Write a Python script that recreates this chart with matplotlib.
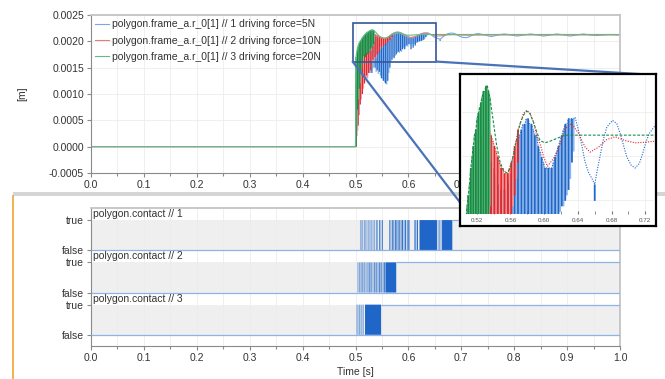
import numpy as np
import matplotlib
matplotlib.use('Agg')
import matplotlib.pyplot as plt
from matplotlib.patches import Rectangle, ConnectionPatch
from matplotlib.lines import Line2D
from matplotlib.ticker import MultipleLocator, FormatStrFormatter

plt.rcParams['font.family'] = ['Liberation Sans', 'DejaVu Sans']
plt.rcParams['axes.unicode_minus'] = False

# polygon.frame_a.r_0[1]  [m]
# smooth part of each trace (before contact and after the chatter)
t_blue = [0.0, 0.5, 0.6367, 0.6407, 0.6447, 0.6486, 0.6526, 0.6573, 0.6625, 0.6665, 0.6704, 0.6744,
          0.6811, 0.6862, 0.6902, 0.6942, 0.6981, 0.7033, 0.7080, 0.7128, 0.7168, 0.7207, 0.7247,
          0.7318, 0.7450, 0.7570, 0.7690, 0.7810, 0.7940, 0.8060, 0.8180, 0.8310, 0.8440, 0.8560,
          0.8680, 0.8810, 0.8940, 0.9060, 0.9180, 0.9310, 0.9440, 0.9560, 0.9680, 0.9810, 1.0]
y_blue = [0.0, 0.0, 0.002163, 0.002139, 0.002111, 0.002081, 0.002062, 0.002049, 0.002062, 0.002093,
          0.002123, 0.002145, 0.002157, 0.002151, 0.002133, 0.002111, 0.002090, 0.002075, 0.002070,
          0.002078, 0.002096, 0.002117, 0.002133, 0.002148, 0.00212, 0.00209, 0.00212, 0.00214,
          0.00212, 0.00210, 0.00212, 0.00214, 0.00212, 0.00210, 0.00212, 0.00214, 0.00212, 0.00210,
          0.00212, 0.00214, 0.00212, 0.00211, 0.00212, 0.00213, 0.00212]
t_red = [0.0, 0.5, 0.5714, 0.5754, 0.5794, 0.5833, 0.5873, 0.5912, 0.5952, 0.5995, 0.6039, 0.6110,
         0.6170, 0.6249, 0.6328, 0.6408, 0.6487, 0.6546, 0.6645, 0.6744, 0.6843, 0.6962, 0.7080,
         0.7199, 0.7318, 0.8000, 1.0]
y_red = [0.0, 0.0, 0.00215, 0.00217, 0.002175, 0.00217, 0.002154, 0.00213, 0.002114, 0.00209,
         0.002073, 0.002087, 0.002105, 0.002142, 0.002151, 0.002133, 0.002108, 0.002099, 0.002108,
         0.002122, 0.002127, 0.00212, 0.002116, 0.002117, 0.002119, 0.002121, 0.002121]
t_green = [0.0, 0.5, 0.5398, 0.5437, 0.5477, 0.5517, 0.5556, 0.5596, 0.5635, 0.5675, 0.5714, 0.5754,
           0.5794, 0.5833, 0.5873, 0.5912, 0.5952, 0.6011, 0.6071, 0.6150, 0.6250, 0.6500, 0.7000,
           0.8000, 1.0]
y_green = [0.0, 0.0, 0.002154, 0.002111, 0.002081, 0.002066, 0.002061, 0.002069, 0.002093, 0.002123,
           0.002151, 0.002166, 0.002174, 0.002169, 0.002154, 0.002136, 0.002120, 0.002116, 0.002119,
           0.002124, 0.00213, 0.00213, 0.00213, 0.00213, 0.00213]

# chatter while bouncing: sample time, top of spike, bottom of spike
bt_blue = [0.5010, 0.5040, 0.5070, 0.5100, 0.5130, 0.5160, 0.5190, 0.5220, 0.5250, 0.5280, 0.5310,
           0.5340, 0.5370, 0.5390, 0.5410, 0.5430, 0.5450, 0.5470, 0.5490, 0.5510, 0.5530, 0.5550,
           0.5570, 0.5590, 0.5610, 0.5630, 0.5650, 0.5670, 0.5690, 0.5710, 0.5730, 0.5750, 0.5770,
           0.5790, 0.5810, 0.5830, 0.5850, 0.5870, 0.5890, 0.5910, 0.5930, 0.5950, 0.5970, 0.5990,
           0.6010, 0.6030, 0.6050, 0.6070, 0.6090, 0.6110, 0.6130, 0.6150, 0.6170, 0.6190, 0.6210,
           0.6230, 0.6250, 0.6270, 0.6290, 0.6310, 0.6330, 0.6350, 0.6600]
btop_blue = [0.0010, 0.0015, 0.0018, 0.0019, 0.0020, 0.00205, 0.00207, 0.00208, 0.00209, 0.00209,
             0.00209, 0.00209, 0.00208, 0.00207, 0.00206, 0.00205, 0.00204, 0.00203, 0.00203,
             0.00203, 0.00203, 0.00203, 0.00204, 0.00205, 0.00206, 0.00207, 0.00209, 0.00211,
             0.00212, 0.00213, 0.00214, 0.00215, 0.00215, 0.00216, 0.00216, 0.00215, 0.00215,
             0.00214, 0.00213, 0.00213, 0.00211, 0.00210, 0.00209, 0.00208, 0.00207, 0.00207,
             0.00207, 0.00207, 0.00207, 0.00208, 0.00209, 0.00210, 0.00211, 0.00212, 0.00213,
             0.00214, 0.00215, 0.00215, 0.00216, 0.00216, 0.00216, 0.00216, 0.00204]
blow_blue = [0.0, 0.0003, 0.0006, 0.0009, 0.0011, 0.0012, 0.0013, 0.0013, 0.0014, 0.0014, 0.0014,
             0.0015, 0.00150, 0.00142, 0.00145, 0.00138, 0.00142, 0.00135, 0.00130, 0.00128,
             0.00125, 0.00122, 0.00120, 0.00118, 0.00125, 0.00140, 0.00150, 0.00160, 0.00165,
             0.00170, 0.00168, 0.00172, 0.00175, 0.00178, 0.00180, 0.00178, 0.00182, 0.00180,
             0.00185, 0.00188, 0.00185, 0.00190, 0.00192, 0.00190, 0.00195, 0.00193, 0.00185,
             0.00195, 0.00188, 0.00195, 0.00192, 0.00197, 0.00198, 0.00199, 0.00200, 0.00200,
             0.00201, 0.00202, 0.00203, 0.00205, 0.00208, 0.00210, 0.00201]
bt_red = [0.5010, 0.5030, 0.5050, 0.5070, 0.5090, 0.5110, 0.5130, 0.5150, 0.5170, 0.5190, 0.5210,
          0.5230, 0.5250, 0.5270, 0.5290, 0.5310, 0.5330, 0.5350, 0.5370, 0.5390, 0.5410, 0.5430,
          0.5450, 0.5470, 0.5490, 0.5510, 0.5530, 0.5550, 0.5570, 0.5590, 0.5610, 0.5630, 0.5650,
          0.5670, 0.5690]
btop_red = [0.00120, 0.00150, 0.00170, 0.00185, 0.00195, 0.00201, 0.00205, 0.00207, 0.00209, 0.00210,
            0.00211, 0.00212, 0.00213, 0.00213, 0.00214, 0.00214, 0.00215, 0.00214, 0.00213, 0.00212,
            0.00211, 0.00210, 0.00209, 0.00208, 0.00207, 0.00207, 0.00206, 0.00206, 0.00206, 0.00207,
            0.00208, 0.00209, 0.00211, 0.00212, 0.00214]
blow_red = [0.0, 0.0002, 0.0004, 0.0006, 0.0008, 0.0009, 0.0010, 0.0011, 0.0012, 0.0013, 0.00135,
            0.0013, 0.0014, 0.0015, 0.00145, 0.0016, 0.00165, 0.0016, 0.0017, 0.00168, 0.00175,
            0.0018, 0.00178, 0.00185, 0.0019, 0.00188, 0.00192, 0.00195, 0.00194, 0.00197, 0.00198,
            0.0020, 0.00202, 0.00205, 0.00208]
bt_green = [0.5010, 0.5025, 0.5040, 0.5055, 0.5070, 0.5085, 0.5100, 0.5115, 0.5130, 0.5145, 0.5160,
            0.5175, 0.5190, 0.5205, 0.5220, 0.5235, 0.5250, 0.5265, 0.5280, 0.5295, 0.5310, 0.5325,
            0.5340, 0.5355]
btop_green = [0.00170, 0.00180, 0.00188, 0.00193, 0.00197, 0.00200, 0.00202, 0.00204, 0.00207, 0.00209,
              0.00211, 0.00213, 0.00214, 0.00216, 0.00217, 0.00218, 0.00219, 0.00220, 0.00221, 0.00221,
              0.00222, 0.00222, 0.00221, 0.00220]
blow_green = [0.0, 0.0004, 0.0007, 0.0009, 0.0011, 0.0012, 0.0014, 0.0015, 0.0016, 0.0017, 0.00172,
              0.00175, 0.00170, 0.00178, 0.00175, 0.00180, 0.00178, 0.00182, 0.00185, 0.00183,
              0.00188, 0.00190, 0.00195, 0.00200]

trace_labels = ['polygon.frame_a.r_0[1] // 1 driving force=5N',
                'polygon.frame_a.r_0[1] // 2 driving force=10N',
                'polygon.frame_a.r_0[1] // 3 driving force=20N']

# polygon.contact == true intervals (start, end) [s]
contact_1 = [(0.5085, 0.5093), (0.5108, 0.5115), (0.5132, 0.5140), (0.5158, 0.5170), (0.5188, 0.5195),
             (0.5212, 0.5222), (0.5242, 0.5250), (0.5268, 0.5280), (0.5298, 0.5306), (0.5326, 0.5336),
             (0.5356, 0.5365), (0.5386, 0.5398), (0.5416, 0.5425), (0.5446, 0.5460), (0.5476, 0.5486),
             (0.5502, 0.5516), (0.5640, 0.5652), (0.5664, 0.5674), (0.5688, 0.5704), (0.5718, 0.5728),
             (0.5742, 0.5762), (0.5774, 0.5792), (0.5804, 0.5814), (0.5828, 0.5846), (0.5858, 0.5868),
             (0.5878, 0.5896), (0.5912, 0.5924), (0.5938, 0.5956), (0.5972, 0.5984), (0.5998, 0.6020),
             (0.6108, 0.6118), (0.6132, 0.6144), (0.6158, 0.6180), (0.6210, 0.6540), (0.6556, 0.6566),
             (0.6588, 0.6598), (0.6612, 0.6622), (0.6636, 0.6830)]
contact_2 = [(0.5030, 0.5036), (0.5050, 0.5055), (0.5068, 0.5078), (0.5090, 0.5096), (0.5110, 0.5118),
             (0.5130, 0.5140), (0.5152, 0.5158), (0.5170, 0.5182), (0.5195, 0.5200), (0.5212, 0.5225),
             (0.5238, 0.5245), (0.5258, 0.5270), (0.5282, 0.5290), (0.5302, 0.5315), (0.5328, 0.5335),
             (0.5348, 0.5362), (0.5375, 0.5382), (0.5395, 0.5410), (0.5422, 0.5430), (0.5442, 0.5458),
             (0.5470, 0.5478), (0.5490, 0.5505), (0.5518, 0.5528), (0.5540, 0.5555), (0.5566, 0.5770)]
contact_3 = [(0.5016, 0.5022), (0.5035, 0.5042), (0.5055, 0.5060), (0.5072, 0.5082), (0.5095, 0.5100),
             (0.5112, 0.5120), (0.5135, 0.5140), (0.5152, 0.5160), (0.5180, 0.5484)]
contact_names = ['polygon.contact // 1', 'polygon.contact // 2', 'polygon.contact // 3']

zoom_t = (0.4945, 0.652)
zoom_y = (0.001616, 0.002357)
inset_t = (0.5014, 0.7315)
inset_y = (0.001986, 0.002238)

W, H = 665, 379
fig = plt.figure(figsize=(W / 100, H / 100), dpi=100)


def px(x0, y0, x1, y1):
    return [x0 / W, 1 - y1 / H, (x1 - x0) / W, (y1 - y0) / H]


def trace(a, t, y, bt, btop, blow, cols, bar_lw, line_lw, ls='-', label=None):
    bt, btop, blow = np.array(bt), np.array(btop), np.array(blow)
    a.vlines(bt[1::2], blow[1::2], btop[1::2], colors=cols[2], lw=bar_lw, snap=False)
    a.vlines(bt[::2], blow[::2], btop[::2], colors=cols[1], lw=bar_lw, snap=False)
    tt = np.concatenate([t, bt])
    yy = np.concatenate([y, btop])
    o = np.argsort(tt, kind='stable')
    ln, = a.plot(tt[o], yy[o], color=cols[0], lw=line_lw, ls=ls, label=label)
    return ln


blue = ('#78a8e4', '#1f68c9', '#8fb6ea')
red = ('#ea7b7b', '#e5262b', '#f39a9b')
green = ('#62bd84', '#178c45', '#70c48e')
series = [(t_blue, y_blue, bt_blue, btop_blue, blow_blue, blue),
          (t_red, y_red, bt_red, btop_red, blow_red, red),
          (t_green, y_green, bt_green, btop_green, blow_green, green)]

txt = '#333333'

# separator between the two plot windows
fig.add_artist(Rectangle((13 / W, 1 - 196 / H), 1 - 13 / W, 4 / H, transform=fig.transFigure,
                         color='#d5d5d5', lw=0, zorder=0))
fig.add_artist(Line2D([13 / W, 13 / W], [0, 1 - 196 / H], transform=fig.transFigure,
                      color='#f2a431', lw=1.2, zorder=0))

# ---- top: displacement ----
ax = fig.add_axes(px(91, 15, 620, 173))
lines = []
for (t, y, bt, btop, blow, cols), lab in zip(series, trace_labels):
    lines.append(trace(ax, t, y, bt, btop, blow, cols, 0.9, 0.8, label=lab))
ax.set_xlim(0, 1)
ax.set_ylim(-0.0005, 0.0025)
ax.xaxis.set_major_locator(MultipleLocator(0.1))
ax.xaxis.set_minor_locator(MultipleLocator(0.05))
ax.yaxis.set_major_locator(MultipleLocator(0.0005))
ax.xaxis.set_major_formatter(FormatStrFormatter('%.1f'))
ax.yaxis.set_major_formatter(FormatStrFormatter('%.4f'))
ax.set_ylabel('[m]', fontsize=7.5, color=txt)
ax.yaxis.set_label_coords(-0.121, 0.5)
ax.add_patch(Rectangle((zoom_t[0], zoom_y[0]), zoom_t[1] - zoom_t[0], zoom_y[1] - zoom_y[0],
                       fill=False, ec='#34589a', lw=1.2, zorder=5))
ax.legend(handles=lines, loc='upper left', bbox_to_anchor=(0.0, 1.0), frameon=False, fontsize=7.5,
          handlelength=1.35, handletextpad=0.25, labelspacing=0.62, borderaxespad=0.2, borderpad=0.2,
          labelcolor=txt)

# ---- bottom: contact flags ----
axb = fig.add_axes(px(91, 208, 620, 346))
levels = [2.8, 1.4, 0.0]
for iv, name, base in zip([contact_1, contact_2, contact_3], contact_names, levels):
    axb.broken_barh([(0, 1)], (base, 1), facecolors='#efefef', zorder=0.4)
    bars = axb.broken_barh([(s, e - s) for s, e in iv], (base, 1), facecolors='#1f66c8', lw=0, zorder=2)
    bars.set_snap(False)
    axb.hlines(base, 0, 1, color='#8fb3e6', lw=0.9, zorder=3)
    axb.hlines(base + 1, iv[-1][1], 1, color='#8fb3e6', lw=0.9, zorder=3)
    axb.text(0.004, base + 1.2, name, fontsize=7.5, va='center', color=txt)
axb.set_xlim(0, 1)
axb.set_ylim(-0.37, 4.2)
axb.xaxis.set_major_locator(MultipleLocator(0.1))
axb.xaxis.set_minor_locator(MultipleLocator(0.05))
axb.xaxis.set_major_formatter(FormatStrFormatter('%.1f'))
axb.set_yticks([l + d for l in levels for d in (0, 1)])
axb.set_yticklabels(['false', 'true'] * 3)
axb.set_xlabel('Time [s]', fontsize=7.5, color=txt)
axb.xaxis.set_label_coords(0.5, -0.15)

for a in (ax, axb):
    a.set_axisbelow(True)
    a.grid(True, which='both', color='#ececec', lw=0.6)
    a.tick_params(labelsize=7.5, labelcolor=txt, color='#8a8a8a', length=3, width=0.8, pad=2)
    a.tick_params(which='minor', color='#8a8a8a', length=2, width=0.8)
    for s in ('left', 'bottom'):
        a.spines[s].set_color('#8a8a8a')
    for s in ('top', 'right'):
        a.spines[s].set_color('#c4c4c4')
        a.spines[s].set_linewidth(1.3)
axb.grid(False, axis='y', which='both')
ax.grid(False, axis='y', which='minor')

# ---- zoomed inset ----
frame = fig.add_axes(px(460, 74, 656, 226), zorder=2)
frame.set_xticks([])
frame.set_yticks([])
for s in frame.spines.values():
    s.set_color('black')
    s.set_linewidth(1.6)
axin = fig.add_axes(px(461, 76, 655, 214), zorder=3)
axin.patch.set_alpha(0)
styles = [(0, (1, 1.3)), (0, (1, 1.3)), (0, (2.5, 1.5))]
for (t, y, bt, btop, blow, cols), ls in zip(series, styles):
    trace(axin, t, y, bt, btop, blow, (cols[1], cols[1], cols[2]), 1.3, 0.8, ls=ls)
axin.set_xlim(*inset_t)
axin.set_ylim(*inset_y)
axin.xaxis.set_major_locator(MultipleLocator(0.04))
axin.xaxis.set_minor_locator(MultipleLocator(0.02))
axin.xaxis.set_major_formatter(FormatStrFormatter('%.2f'))
axin.set_yticks([0.002012, 0.002092, 0.002172])
axin.set_yticklabels([])
axin.tick_params(axis='y', length=0)
axin.tick_params(axis='x', which='both', direction='in', length=2, color='#777777',
                 labelsize=4.5, labelcolor='#555555', pad=3)
axin.grid(True, color='#eeeeee', lw=0.6)
axin.set_axisbelow(True)
for s in axin.spines.values():
    s.set_visible(False)

# connector lines from the zoom box to the inset
for xa, xb in [((zoom_t[0], zoom_y[0]), (0.072, -0.058)), ((zoom_t[1], zoom_y[0]), (0.923, 1.014))]:
    fig.add_artist(ConnectionPatch(xyA=xa, coordsA=ax.transData, xyB=xb, coordsB=axin.transAxes,
                                   color='#4a72b8', lw=1.6, zorder=1))

fig.savefig('out.png', dpi=100)
